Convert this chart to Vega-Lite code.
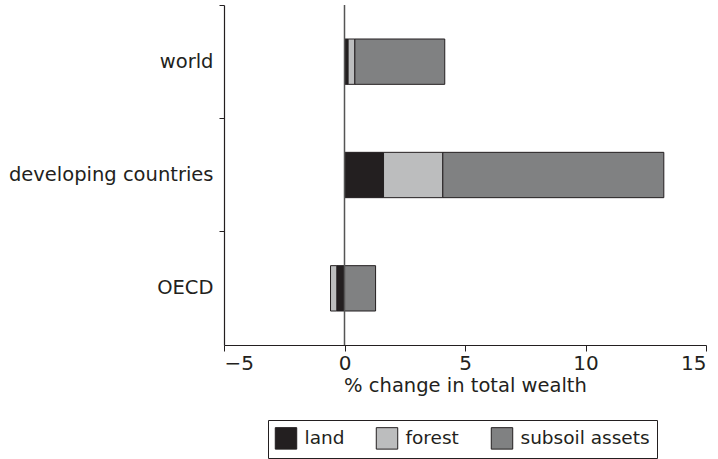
{
  "$schema": "https://vega.github.io/schema/vega-lite/v6.json",
  "width": 482,
  "height": 340,
  "autosize": {"type": "none"},
  "padding": {"left": 224, "top": 5, "right": 12, "bottom": 114},
  "background": "white",
  "config": {
    "view": {"stroke": null},
    "font": "DejaVu Sans",
    "axis": {"labelFont": "DejaVu Sans", "titleFont": "DejaVu Sans", "labelColor": "#231f20", "titleColor": "#231f20", "domainColor": "#231f20", "tickColor": "#231f20", "grid": false},
    "legend": {"labelFont": "DejaVu Sans"}
  },
  "data": {
    "values": [
      {"region": "world", "component": "land", "value": 0.15, "ord": 1},
      {"region": "world", "component": "forest", "value": 0.28, "ord": 2},
      {"region": "world", "component": "subsoil assets", "value": 3.73, "ord": 3},
      {"region": "developing countries", "component": "land", "value": 1.62, "ord": 1},
      {"region": "developing countries", "component": "forest", "value": 2.46, "ord": 2},
      {"region": "developing countries", "component": "subsoil assets", "value": 9.17, "ord": 3},
      {"region": "OECD", "component": "land", "value": -0.32, "ord": 1},
      {"region": "OECD", "component": "forest", "value": -0.26, "ord": 2},
      {"region": "OECD", "component": "subsoil assets", "value": 1.29, "ord": 3}
    ]
  },
  "layer": [
    {
      "mark": {"type": "bar", "stroke": "#231f20", "strokeWidth": 1},
      "encoding": {
        "y": {
          "field": "region", "type": "nominal",
          "sort": ["world", "developing countries", "OECD"],
          "scale": {"paddingInner": 0.6, "paddingOuter": 0.3},
          "axis": {"title": null, "labelFontSize": 19.5, "labelPadding": 6, "labelLimit": 400, "bandPosition": -0.75, "tickSize": 5, "domainWidth": 1.2, "labelColor": "#231f20"}
        },
        "x": {
          "field": "value", "type": "quantitative", "stack": "zero",
          "scale": {"domain": [-5, 15], "nice": false, "zero": false},
          "axis": {"title": "% change in total wealth", "values": [-5, 0, 5, 10, 15], "labelFontSize": 20, "titleFontSize": 19.5, "titleFontWeight": "normal", "tickSize": 6, "labelPadding": 2, "titlePadding": 3, "domainWidth": 1.2}
        },
        "color": {
          "field": "component", "type": "nominal",
          "scale": {"domain": ["land", "forest", "subsoil assets"], "range": ["#231f20", "#bcbdbe", "#808182"]},
          "legend": {
            "title": null, "orient": "none", "legendX": 44, "legendY": 415, "direction": "horizontal",
            "symbolType": "square", "symbolSize": 460, "symbolStrokeColor": "#231f20", "symbolStrokeWidth": 1,
            "labelFontSize": 18.5, "labelColor": "#231f20", "columnPadding": 29, "labelOffset": 7,
            "strokeColor": "#231f20", "padding": 6.5
          }
        },
        "order": {"field": "ord", "type": "quantitative"}
      }
    },
    {
      "data": {"values": [{"x": 0}]},
      "mark": {"type": "rule", "color": "#555555", "strokeWidth": 1.5},
      "encoding": {"x": {"field": "x", "type": "quantitative"}}
    }
  ]
}
